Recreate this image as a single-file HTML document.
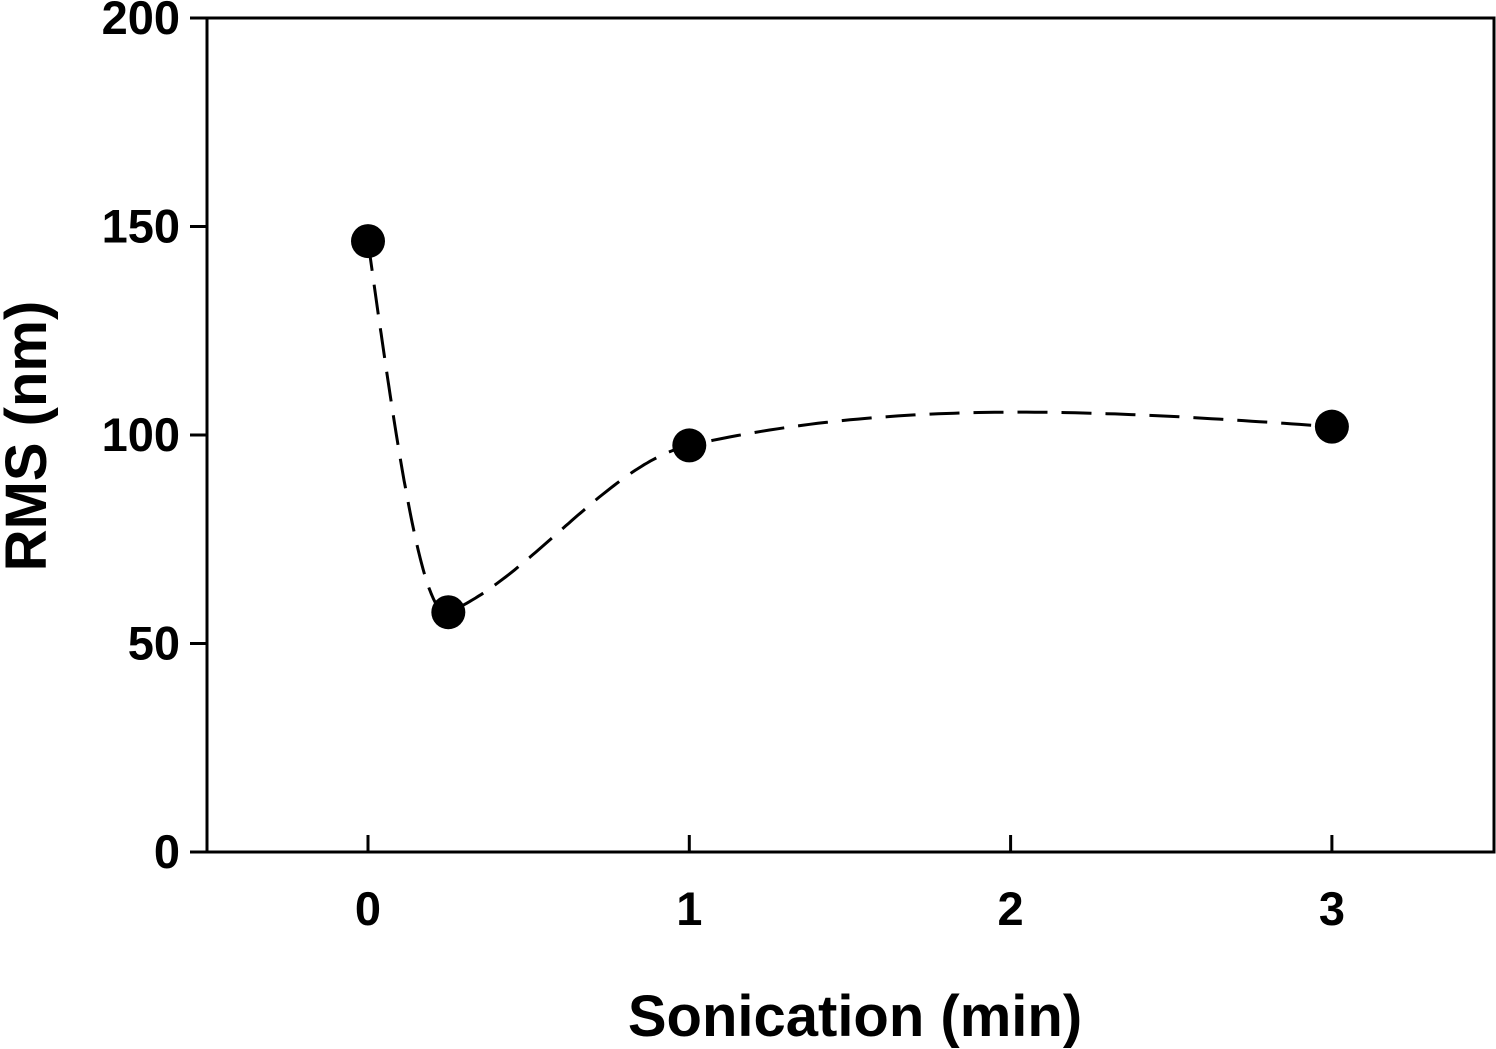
<!DOCTYPE html>
<html><head><meta charset="utf-8"><style>
html,body{margin:0;padding:0;background:#fff;}
svg{display:block;font-family:"Liberation Sans",Arial,sans-serif;font-weight:bold;}
</style></head><body>
<svg id="chart" width="1496" height="1049">
<rect x="207" y="18" width="1287" height="834" fill="none" stroke="#000" stroke-width="3"/>
<g id="ticks"></g>
<path id="curve" fill="none" stroke="#000" stroke-width="3" stroke-dasharray="30,14"/>
<g id="points"></g>
<text x="46" y="436" font-size="58" text-anchor="middle" transform="rotate(-90 46 436)">RMS (nm)</text>
<text x="855" y="1036" font-size="58" text-anchor="middle">Sonication (min)</text>
</svg>
<script>
const xValues=[0,0.25,1,3];
const yValues=[146.5,57.5,97.5,102];
const xTicks=[0,1,2,3];
const yTicks=[0,50,100,150,200];
const X0=368,XS=321.3,Y0=852,YS=4.17;
const sx=v=>X0+v*XS, sy=v=>Y0-v*YS;
const ns="http://www.w3.org/2000/svg";
const tg=document.getElementById('ticks');
function mk(t,a,p){const e=document.createElementNS(ns,t);for(const k in a)e.setAttribute(k,a[k]);p.appendChild(e);return e;}
yTicks.forEach(v=>{
  const l=mk('line',{x1:190,x2:207,y1:sy(v),y2:sy(v),stroke:'#000','stroke-width':3},tg);
  
  
  const t=mk('text',{x:180,y:sy(v)+16,'font-size':47,'text-anchor':'end'},tg);
  t.textContent=v;
  
  
});
xTicks.forEach(v=>{
  const l=mk('line',{x1:sx(v),x2:sx(v),y1:835,y2:852,stroke:'#000','stroke-width':3},tg);
  
  
  const t=mk('text',{x:sx(v),y:925,'font-size':47,'text-anchor':'middle'},tg);
  t.textContent=v;
  
  
});
// Hermite spline with shape-aware tangents
const n=xValues.length,h=[],s=[],m=[];
for(let i=0;i<n-1;i++){h[i]=xValues[i+1]-xValues[i];s[i]=(yValues[i+1]-yValues[i])/h[i];}
for(let i=1;i<n-1;i++){m[i]=(s[i-1]*s[i]<=0)?0.6*s[i]:1.6*Math.sign(s[i])*Math.sqrt(s[i-1]*s[i]);}
m[0]=1.5*s[0]-0.5*m[1];
m[n-1]=1.5*s[n-2]-0.5*m[n-2];
let dp='';
for(let i=0;i<n-1;i++){for(let k=0;k<=80;k++){const t=k/80,t2=t*t,t3=t2*t;
  const y=(2*t3-3*t2+1)*yValues[i]+(t3-2*t2+t)*h[i]*m[i]+(-2*t3+3*t2)*yValues[i+1]+(t3-t2)*h[i]*m[i+1];
  const x=xValues[i]+t*h[i];
  dp+=(dp?'L':'M')+sx(x).toFixed(1)+','+sy(y).toFixed(1);}}
document.getElementById('curve').setAttribute('d',dp);
const pg=document.getElementById('points');
xValues.forEach((x,i)=>{
  const p=mk('circle',{cx:sx(x),cy:sy(yValues[i]),r:17,fill:'#000'},pg);
  
  
});
</script>
</body></html>
